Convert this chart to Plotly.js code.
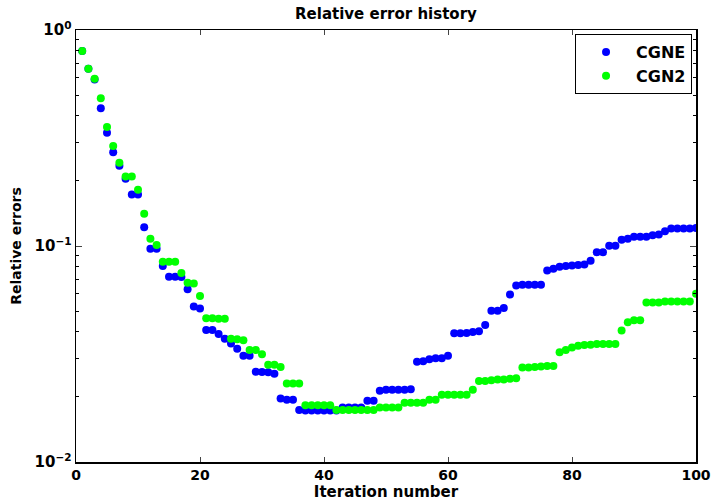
<!DOCTYPE html>
<html>
<head>
<meta charset="utf-8">
<script src="https://cdn.plot.ly/plotly-3.0.1.min.js"></script>
<style>html,body{margin:0;padding:0;background:#fff;}#chart{width:711px;height:504px;}</style>
</head>
<body>
<div id="chart"></div>
<script>
const iterations = Array.from({length: 100}, (_, k) => k + 1);

const cgne = [
  0.80, 0.662, 0.59, 0.434, 0.334, 0.272, 0.235, 0.205, 0.173, 0.173,
  0.122, 0.097, 0.097, 0.0808, 0.0721, 0.0721, 0.0718, 0.063, 0.0524, 0.0513,
  0.0408, 0.0408, 0.0391, 0.0372, 0.0354, 0.0334, 0.031, 0.031, 0.0262, 0.0261,
  0.026, 0.0256, 0.0197, 0.0194, 0.0194, 0.0174, 0.0173, 0.0173, 0.0173, 0.0173,
  0.0173, 0.0173, 0.0179, 0.0179, 0.0179, 0.0179, 0.0192, 0.0192, 0.0214, 0.0216,
  0.0216, 0.0216, 0.0216, 0.0217, 0.0291, 0.0293, 0.0299, 0.0302, 0.0302, 0.031,
  0.0394, 0.0394, 0.0396, 0.0400, 0.0403, 0.0431, 0.0501, 0.0501, 0.0517, 0.0596,
  0.0656, 0.0661, 0.0661, 0.0661, 0.0661, 0.0771, 0.0785, 0.0802, 0.0808, 0.0813,
  0.0817, 0.0822, 0.0855, 0.0935, 0.0935, 0.1004, 0.1004, 0.107, 0.108, 0.1105,
  0.1105, 0.1105, 0.112, 0.113, 0.117, 0.1205, 0.1205, 0.1205, 0.1205, 0.121
];

const cgn2 = [
  0.80, 0.662, 0.595, 0.483, 0.356, 0.290, 0.243, 0.210, 0.210, 0.182,
  0.141, 0.108, 0.101, 0.0846, 0.0846, 0.0846, 0.075, 0.0676, 0.067, 0.0587,
  0.0463, 0.0463, 0.046, 0.046, 0.0372, 0.037, 0.0366, 0.033, 0.033, 0.0315,
  0.0282, 0.0282, 0.0275, 0.0231, 0.0231, 0.0231, 0.0183, 0.0183, 0.0183, 0.0183,
  0.0183, 0.0174, 0.0174, 0.0174, 0.0174, 0.0174, 0.0174, 0.0174, 0.0179, 0.0179,
  0.0179, 0.0179, 0.0188, 0.0188, 0.0188, 0.0188, 0.0194, 0.0194, 0.0205, 0.0205,
  0.0205, 0.0205, 0.0205, 0.0216, 0.0237, 0.0237, 0.0239, 0.0241, 0.0241, 0.0243,
  0.0244, 0.0274, 0.0274, 0.0275, 0.0277, 0.0278, 0.0278, 0.0322, 0.033, 0.0339,
  0.0345, 0.0348, 0.0349, 0.0352, 0.0352, 0.0352, 0.0352, 0.0406, 0.0444, 0.0453,
  0.0453, 0.0548, 0.0548, 0.0548, 0.0554, 0.0554, 0.0554, 0.0554, 0.0554, 0.0601
];

const seriesNames = ['CGNE', 'CGN2'];
const xTicks = [0, 20, 40, 60, 80, 100];
const yTicks = [0.01, 0.1, 1];
const yTickText = ['10<sup>−2</sup>', '10<sup>−1</sup>', '10<sup>0</sup>'];
const yMinor = [0.02,0.03,0.04,0.05,0.06,0.07,0.08,0.09,0.2,0.3,0.4,0.5,0.6,0.7,0.8,0.9];

const FONT = 'DejaVu Sans, Liberation Sans, Arial, sans-serif';

const traces = [
  {x: iterations, y: cgne, name: seriesNames[0], mode: 'markers', type: 'scatter',
   marker: {color: '#0000ff', size: 8}},
  {x: iterations, y: cgn2, name: seriesNames[1], mode: 'markers', type: 'scatter',
   marker: {color: '#00ff00', size: 8}}
];

const layout = {
  width: 711, height: 504,
  margin: {l: 76, r: 15, t: 30, b: 42, pad: 0},
  paper_bgcolor: '#fff', plot_bgcolor: '#fff',
  font: {family: FONT, color: '#000', size: 15, weight: 'bold'},
  title: {text: 'Relative error history', font: {size: 15, weight: 'bold', family: FONT},
          x: 0.5428, xanchor: 'center', y: 0.972, yanchor: 'middle'},
  showlegend: true,
  legend: {x: 0.9936, xanchor: 'right', y: 0.9907, yanchor: 'top',
           bordercolor: '#000', borderwidth: 1, bgcolor: '#fff',
           font: {size: 16, weight: 'bold', family: FONT}, itemwidth: 50,
           tracegroupgap: 0},
  xaxis: {range: [0, 100], tickvals: xTicks, ticks: 'inside', ticklen: 5,
          ticklabeloverflow: 'allow',
          showline: true, linecolor: '#000', linewidth: 1.5, mirror: 'ticks',
          showgrid: false, zeroline: false, tickfont: {size: 14, weight: 'bold'},
          title: {text: 'Iteration number', font: {size: 15, weight: 'bold'}, standoff: 2}},
  yaxis: {type: 'log', range: [-2, 0], tickvals: yTicks, ticktext: yTickText,
          ticks: 'inside', ticklen: 6, showline: true, linecolor: '#000', linewidth: 1.5,
          mirror: 'ticks', showgrid: false, zeroline: false,
          tickfont: {size: 15, weight: 'bold'},
          minor: {tickvals: yMinor, ticks: 'inside', ticklen: 3, tickcolor: '#000', showgrid: false},
          title: {text: 'Relative errors', font: {size: 14, weight: 'bold'}, standoff: 9}}
};

Plotly.newPlot('chart', traces, layout, {staticPlot: true, displayModeBar: false});
</script>
</body>
</html>
